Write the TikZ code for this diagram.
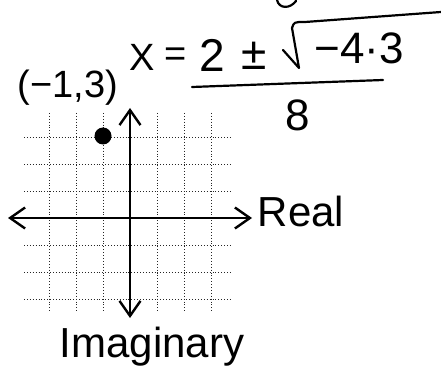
\documentclass[tikz,border=0pt]{standalone}
\usepackage{fontspec}
\setmainfont{Liberation Sans}
\usetikzlibrary{arrows.meta}
\newcommand{\fsz}[1]{\fontsize{#1}{#1}\selectfont}
\begin{document}
\begin{tikzpicture}[x=1pt,y=-1pt,
  gridline/.style={dotted, line width=0.9pt, black!85},
  axisline/.style={line width=2.4pt, {Straight Barb[length=15pt,width=21pt]}-{Straight Barb[length=15pt,width=21pt]}},
  ink/.style={line width=2.2pt, line cap=round, line join=round},
  hand/.style={inner sep=0pt, anchor=center}]
\useasboundingbox (0,0) rectangle (441,371);
% grid
\foreach \x in {49,76,103,157,184,211} \draw[gridline] (\x,113) -- (\x,313);
\foreach \y in {137,164,191,245,272,299} \draw[gridline] (24,\y) -- (230,\y);
% axes
\coordinate (xl) at (8,218);
\coordinate (xr) at (252,218);
\coordinate (yt) at (130,108);
\coordinate (yb) at (130,318);
\draw[axisline] (xl) -- (xr);
\draw[axisline] (yt) -- (yb);
% point
\node[circle, fill=black, minimum size=17pt, inner sep=0pt] (pt) at (103,136) {};
% labels
\node[hand] (coord) at (68,88) {\fsz{38}(−1,3)};
\node[hand] (real) at (301,211) {\fsz{42}Real};
\node[hand] (imag) at (152,347) {\fsz{42}Imaginary};
% formula
\node[hand] (X) at (142,57) {\fsz{38}X};
\node[hand] (eq) at (176,57) {\fsz{38}=};
\node[hand] (two) at (212,55) {\fsz{46}2};
\node[hand] (pm) at (254,56) {\fsz{46}±};
\node[hand] (rad) at (359,48) {\fsz{44}−4·3};
\node[hand] (den) at (298,115) {\fsz{44}8};
\coordinate (s1) at (283,50);
\coordinate (s2) at (299,68);
\coordinate (s3) at (292,28);
\coordinate (s4) at (305,22);
\coordinate (s5) at (441,12);
\draw[ink] (s1) -- (s2) -- (s3) .. controls (294,22) .. (s4) -- (s5);
\coordinate (f1) at (192,87);
\coordinate (f2) at (383,80);
\draw[ink] (f1) -- (f2);
\coordinate (t1) at (277,0);
\coordinate (t2) at (296,1);
\draw[ink] (t1) .. controls (279,9) and (290,9) .. (t2);
\end{tikzpicture}
\end{document}
